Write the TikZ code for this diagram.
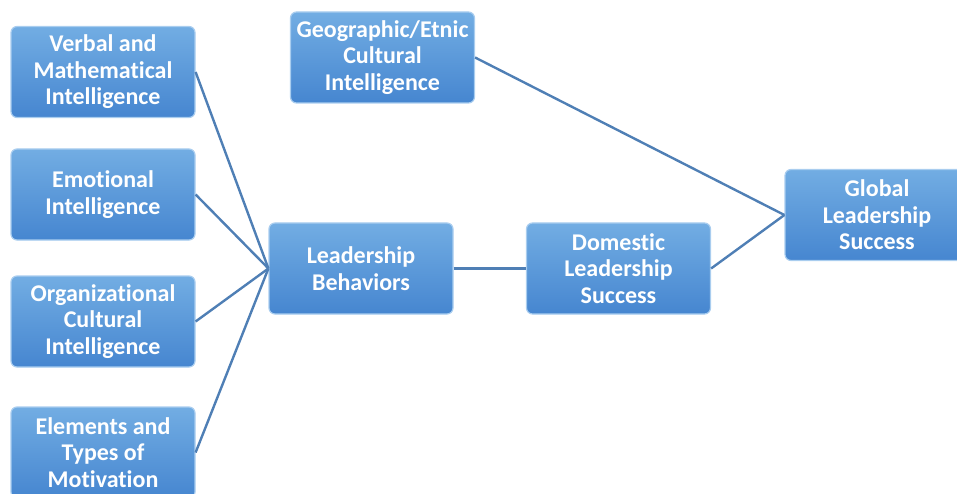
\documentclass[tikz,border=0pt]{standalone}
\usepackage{fontspec}
\setmainfont{Carlito}[RawFeature=-liga]
\definecolor{boxtop}{HTML}{72ADE3}
\definecolor{boxbot}{HTML}{4686D0}
\definecolor{boxrim}{HTML}{A9CDEF}
\definecolor{linkcol}{HTML}{4F7FB5}
\tikzset{
  ibox/.style={rectangle, rounded corners=6pt, draw=boxrim, line width=1.2pt,
    top color=boxtop, bottom color=boxbot, minimum width=184pt, minimum height=91pt,
    inner sep=0pt, align=center, text=white,
    font=\fontsize{24}{26.5}\selectfont\bfseries},
  link/.style={draw=linkcol, line width=2.4pt}
}
\begin{document}
\begin{tikzpicture}[x=1pt, y=-1pt]
\useasboundingbox (0,0) rectangle (957,494);
\clip (0,0) rectangle (957,494);

\node[ibox] (verbal) at (103,72) {Verbal and\\Mathematical\\Intelligence};
\node[ibox] (emotional) at (103,194.5) {Emotional\\Intelligence};
\node[ibox] (orgcult) at (103,321.5) {Organizational\\Cultural\\Intelligence};
\node[ibox] (motiv) at (103,452.5) {Elements and\\Types of\\Motivation};
\node[ibox] (geocult) at (382.5,57.5) {Geographic/Etnic\\Cultural\\Intelligence};
\node[ibox] (behav) at (361,268.5) {Leadership\\Behaviors};
\node[ibox] (domestic) at (618.5,268.5) {Domestic\\Leadership\\Success};
\node[ibox] (global) at (877,215) {Global\\Leadership\\Success};

\draw[link] (verbal.east) -- (behav.west);
\draw[link] (emotional.east) -- (behav.west);
\draw[link] (orgcult.east) -- (behav.west);
\draw[link] (motiv.east) -- (behav.west);
\draw[link] (behav.east) -- (domestic.west);
\draw[link] (domestic.east) -- (global.west);
\draw[link] (geocult.east) -- (global.west);

\end{tikzpicture}
\end{document}
